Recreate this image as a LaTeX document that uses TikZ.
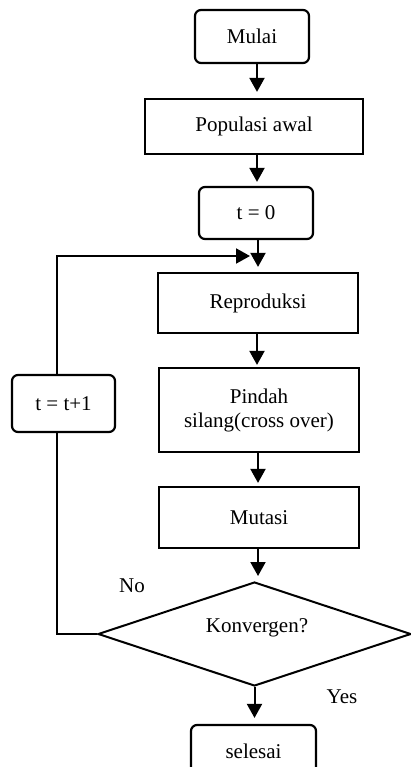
\documentclass[tikz,border=0pt]{standalone}
\usepackage{fontspec}
\setmainfont{Liberation Serif}
\usetikzlibrary{arrows.meta,shapes.geometric}
\begin{document}
\begin{tikzpicture}[x=1pt,y=-1pt,
  font=\fontsize{21}{24}\selectfont,
  box/.style={draw,line width=2.2pt,inner sep=0pt,align=center},
  rbox/.style={box,rounded corners=6pt},
  line/.style={line width=2pt},
  arr/.style={line,-{Triangle[width=15pt,length=14pt]}},
  lbl/.style={inner sep=0pt}]
\clip (0,0) rectangle (411,767);
\fill[white] (0,0) rectangle (411,767);
\node[rbox,minimum width=114pt,minimum height=53pt] (mulai) at (252,36.5) {Mulai};
\node[box,minimum width=218pt,minimum height=55pt] (pop) at (254,126.5) {Populasi awal};
\node[rbox,minimum width=114pt,minimum height=52pt] (t0) at (256,213) {t = 0};
\node[box,minimum width=200pt,minimum height=60pt] (rep) at (258,303) {Reproduksi};
\node[box,minimum width=200pt,minimum height=84pt] (pindah) at (259,410) {Pindah\\silang(cross over)};
\node[box,minimum width=200pt,minimum height=61pt] (mutasi) at (259,517.5) {Mutasi};
\node[draw,diamond,line width=2pt,inner sep=0pt,minimum width=313pt,minimum height=104pt] (konv) at (254.5,634) {};
\node[lbl] (konvt) at (257,628) {Konvergen?};
\node[rbox,minimum width=103pt,minimum height=57pt] (tt) at (63.5,403.5) {t = t+1};
\node[rbox,minimum width=125pt,minimum height=52pt] (selesai) at (253.5,751) {selesai};
\node[lbl] (no) at (132,586) {No};
\node[lbl] (yes) at (342,697) {Yes};
\coordinate (ax) at (257,0);
\coordinate (bx) at (258,0);
\coordinate (lx) at (57,0);
\coordinate (ly) at (0,256);
\coordinate (mx) at (250,256);
\draw[arr,shorten >=6pt] (mulai.south -| ax) -- (pop.north -| ax);
\draw[arr,shorten >=4pt] (pop.south -| ax) -- (t0.north -| ax);
\draw[arr,shorten >=5pt] (t0.south -| bx) -- (rep.north -| bx);
\draw[arr,shorten >=2pt] (rep.south -| ax) -- (pindah.north -| ax);
\draw[arr,shorten >=3pt] (pindah.south -| bx) -- (mutasi.north -| bx);
\draw[arr,shorten >=5pt] (mutasi.south -| bx) -- (konv.north -| bx);
\draw[arr,shorten >=6pt] (konv.south) -- (selesai.north -| konv.south);
\draw[line] (konv.west) -- (konv.west -| lx) -- (tt.south -| lx);
\draw[arr] (tt.north -| lx) -- (lx |- ly) -- (mx);
\end{tikzpicture}
\end{document}
